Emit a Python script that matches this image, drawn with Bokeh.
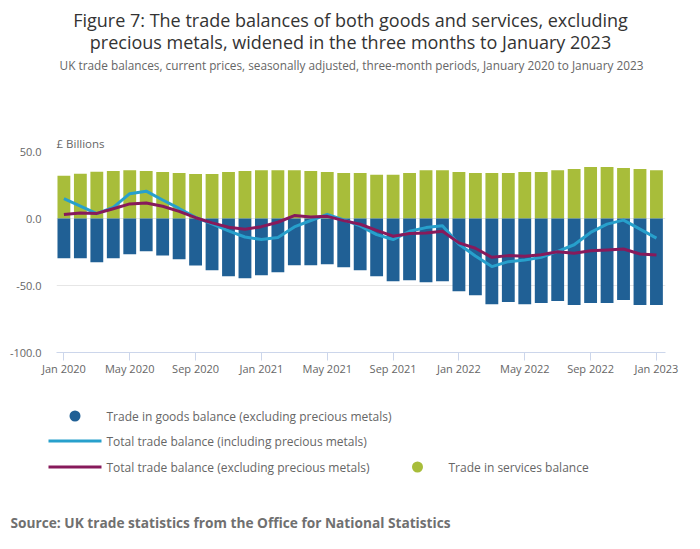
from bokeh.plotting import figure
from bokeh.models import (Range1d, FixedTicker, ColumnDataSource, NumeralTickFormatter, Title)
from bokeh.layouts import column
from bokeh.embed import file_html
from bokeh.resources import INLINE
from bokeh.core.properties import value

# ---------------- data ----------------
month_names = ["Jan", "Feb", "Mar", "Apr", "May", "Jun", "Jul", "Aug", "Sep", "Oct", "Nov", "Dec"]
months = [f"{m} {y}" for y in (2020, 2021, 2022) for m in month_names] + ["Jan 2023"]

tick_labels = ["Jan 2020", "May 2020", "Sep 2020", "Jan 2021", "May 2021", "Sep 2021",
               "Jan 2022", "May 2022", "Sep 2022", "Jan 2023"]

services = [31.9, 33.4, 34.9, 35.4, 36.1, 35.4, 34.7, 33.9, 33.2, 33.2, 34.7, 35.4,
            36.1, 36.1, 36.1, 35.4, 34.7, 33.9, 33.9, 32.7, 32.7, 33.9, 36.1, 36.1,
            34.7, 33.9, 33.9, 33.9, 34.7, 34.7, 36.1, 36.9, 38.4, 38.4, 37.6, 36.9,
            36.1]
goods = [-29.7, -29.7, -32.7, -29.7, -26.7, -24.5, -27.7, -30.4, -35.1, -38.6, -43.1, -44.6,
         -42.3, -40.1, -34.9, -34.9, -34.2, -36.4, -38.6, -43.1, -46.8, -46.0, -47.5, -46.8,
         -54.2, -57.2, -63.9, -62.4, -63.9, -63.1, -61.6, -64.6, -63.1, -63.1, -60.9, -64.6,
         -64.6]
total_incl = [14.8, 9.2, 3.6, 8.3, 18.5, 20.4, 13.8, 7.5, 0.8, -4.0, -9.3, -13.8,
              -15.7, -14.2, -6.3, -1.5, 3.1, -1.0, -5.5, -12.0, -15.7, -9.5, -6.8, -5.4,
              -19.2, -28.0, -35.9, -32.2, -30.9, -29.0, -24.5, -19.6, -10.4, -4.2, -1.2, -7.9,
              -14.6]
total_excl = [2.9, 4.1, 3.8, 7.3, 10.9, 11.6, 9.1, 5.3, 0.6, -3.3, -6.5, -8.1,
              -6.1, -2.8, 2.2, 1.2, 1.6, -1.6, -4.3, -8.8, -13.2, -11.2, -10.9, -9.5,
              -18.2, -22.2, -29.0, -27.7, -28.2, -27.0, -24.8, -26.0, -24.0, -23.5, -22.8, -26.5,
              -27.2]

legend_labels = ["Trade in goods balance (excluding precious metals)",
                 "Total trade balance (including precious metals)",
                 "Total trade balance (excluding precious metals)",
                 "Trade in services balance"]

title_lines = ["Figure 7: The trade balances of both goods and services, excluding",
               "precious metals, widened in the three months to January 2023"]
subtitle = "UK trade balances, current prices, seasonally adjusted, three-month periods, January 2020 to January 2023"
y_unit = "£ Billions"
source_text = "Source: UK trade statistics from the Office for National Statistics"

C_GOODS = "#206095"
C_SERV = "#a8bd3a"
C_INCL = "#27a0cc"
C_EXCL = "#871a5b"
FONT = "Open Sans"

W = 700
BL, BR = 56, 35          # left / right borders of the chart frame


def blank(height, x_range, y_range, left=0, right=0):
    f = figure(width=W, height=height, x_range=x_range, y_range=y_range,
               output_backend="svg", toolbar_location=None,
               min_border_left=left, min_border_right=right, min_border_top=0,
               min_border_bottom=0, x_axis_location=None, y_axis_location=None)
    f.grid.visible = False
    f.outline_line_color = None
    return f


# ---------------- header: title + subtitle ----------------
HH = 130
hdr = blank(HH, Range1d(BL, W - BR), Range1d(HH, 0), BL, BR)
hdr.text(x=[350, 350], y=[19.5, 41],
         text=title_lines, text_font=value(FONT), text_font_size=value("18px"),
         text_align="center", text_baseline="middle", text_color="#333333")
hdr.text(x=[351], y=[64.5], text=[subtitle], text_font=value(FONT),
         text_font_size=value("11.8px"), text_align="center", text_baseline="middle",
         text_color="#666666")

# ---------------- main chart ----------------
src = ColumnDataSource(dict(x=list(range(len(months))), month=months, services=services,
                            goods=goods, incl=total_incl, excl=total_excl))

MAIN_TOP, MAIN_BOTTOM = 130, 378
p = figure(width=W, height=MAIN_BOTTOM - MAIN_TOP,
           x_range=Range1d(-0.45, len(months) - 0.45), y_range=Range1d(-100, 50),
           output_backend="svg", toolbar_location=None,
           min_border_left=BL, min_border_right=BR,
           min_border_top=151 - MAIN_TOP, min_border_bottom=MAIN_BOTTOM - 352)
p.outline_line_color = None
p.xgrid.visible = False
yt = [-100, -50, 0, 50]
p.ygrid.ticker = FixedTicker(ticks=yt)
p.ygrid.grid_line_color = "#e6e6e6"

p.yaxis.ticker = FixedTicker(ticks=yt)
p.yaxis.formatter = NumeralTickFormatter(format="0.0")
p.yaxis.axis_line_color = None
p.yaxis.major_tick_line_color = None
p.yaxis.minor_tick_line_color = None
p.yaxis.major_tick_out = 0
p.yaxis.major_tick_in = 0
p.yaxis.major_label_standoff = 15
p.yaxis.major_label_text_font = FONT
p.yaxis.major_label_text_font_size = "11px"
p.yaxis.major_label_text_color = "#666666"

tick_pos = [months.index(t) for t in tick_labels]
p.xaxis.ticker = FixedTicker(ticks=tick_pos)
p.xaxis.major_label_overrides = {pos: lab for pos, lab in zip(tick_pos, tick_labels)}
p.xaxis.axis_line_color = "#ccd6eb"
p.xaxis.major_tick_line_color = "#ccd6eb"
p.xaxis.minor_tick_line_color = None
p.xaxis.major_tick_out = 8
p.xaxis.major_tick_in = 0
p.xaxis.major_label_standoff = 0
p.xaxis.major_label_text_font = FONT
p.xaxis.major_label_text_font_size = "11px"
p.xaxis.major_label_text_color = "#666666"

p.vbar(x="x", top="services", bottom=0, width=0.78, source=src,
       fill_color=C_SERV, line_color=None)
p.vbar(x="x", top=0, bottom="goods", width=0.78, source=src,
       fill_color=C_GOODS, line_color=None)
p.line(x="x", y="incl", source=src, line_color=C_INCL, line_width=3, line_join="round")
p.line(x="x", y="excl", source=src, line_color=C_EXCL, line_width=3, line_join="round")

p.add_layout(Title(text=y_unit, align="left", vertical_align="middle", standoff=0,
                   text_font=FONT, text_font_size="11.5px", text_font_style="normal",
                   text_color="#666666"), "above")

# ---------------- footer: legend + source (separate root, page-pixel coordinates) ----------------
FH = 549 - MAIN_BOTTOM
ftr = blank(FH, Range1d(0, W), Range1d(FH, 0))
row_y = [415.5 - MAIN_BOTTOM, 440.5 - MAIN_BOTTOM, 466.5 - MAIN_BOTTOM]

ftr.scatter(x=[74.5], y=[row_y[0]], size=11, marker="circle", fill_color=C_GOODS, line_color=None)
ftr.line(x=[48, 101], y=[row_y[1]] * 2, line_color=C_INCL, line_width=3)
ftr.line(x=[48, 101], y=[row_y[2]] * 2, line_color=C_EXCL, line_width=3)
ftr.scatter(x=[417], y=[row_y[2]], size=11, marker="circle", fill_color=C_SERV, line_color=None)
ftr.text(x=[106, 106, 106, 448], y=[row_y[0], row_y[1], row_y[2], row_y[2]], text=legend_labels,
         text_font=value(FONT), text_font_size=value("12px"), text_align="left",
         text_baseline="middle", text_color="#666666")
ftr.text(x=[10], y=[521.7 - MAIN_BOTTOM], text=[source_text],
         text_font=value(FONT), text_font_size=value("13.7px"), text_font_style="bold",
         text_align="left", text_baseline="middle", text_color="#707070")

top = column(hdr, p, spacing=0)
open("out.html", "w").write(file_html([top, ftr], INLINE))
